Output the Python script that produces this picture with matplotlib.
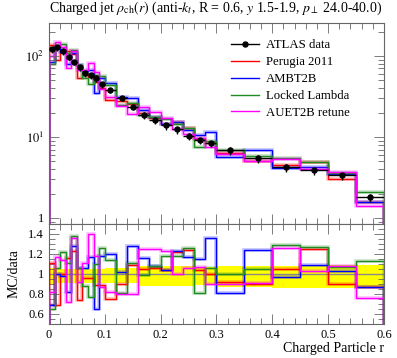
import numpy as np
import matplotlib
matplotlib.use("Agg")
import matplotlib.pyplot as plt
from matplotlib.lines import Line2D
from matplotlib.ticker import MultipleLocator, FixedLocator, NullFormatter, LogLocator, FuncFormatter

plt.rcParams['font.family'] = ['Liberation Serif', 'DejaVu Serif']
plt.rcParams['mathtext.fontset'] = 'stix'

# bin edges of r
edges = [0, 0.01, 0.02, 0.03, 0.04, 0.05, 0.06, 0.07, 0.08, 0.09, 0.10,
         0.12, 0.14, 0.16, 0.18, 0.20, 0.22, 0.24, 0.26, 0.28, 0.30,
         0.35, 0.40, 0.45, 0.50, 0.55, 0.60]

# ATLAS data rho_ch(r)
data = [123, 128, 114, 98, 85, 72, 61, 58, 53, 45,
        38.5, 30.5, 23.7, 18.7, 16.2, 14.0, 12.4, 10.3, 9.2, 8.4,
        6.9, 5.55, 4.3, 3.9, 3.4, 1.83]
err_up = [0.058, 0.048, 0.048, 0.048, 0.048, 0.048, 0.048, 0.048, 0.048, 0.048,
          0.058, 0.058, 0.058, 0.075, 0.075, 0.075, 0.075, 0.075, 0.065, 0.065,
          0.075, 0.075, 0.075, 0.085, 0.085, 0.085]
err_dn = [0.112, 0.095, 0.095, 0.095, 0.095, 0.095, 0.095, 0.095, 0.095, 0.095,
          0.095, 0.095, 0.095, 0.12, 0.12, 0.12, 0.12, 0.12, 0.11, 0.11,
          0.13, 0.13, 0.14, 0.14, 0.14, 0.14]

# MC / data ratios
ratio_perugia = [1.11, 0.69, 1.00, 1.16, 1.23, 0.74, 0.96, 0.96, 0.89, 0.89,
                 0.75, 0.90, 1.09, 1.05, 1.06, 1.04, 1.22, 1.24, 1.04, 1.00,
                 0.92, 0.90, 1.05, 1.25, 0.90, 0.87]
ratio_ambt2b = [0.69, 1.00, 0.98, 0.82, 1.28, 1.06, 1.06, 1.17, 0.65, 1.18,
                1.20, 1.02, 1.28, 1.16, 1.075, 1.04, 1.23, 1.17, 1.15, 1.36,
                0.81, 1.24, 0.97, 1.09, 1.03, 0.87]
ratio_locked = [0.65, 1.06, 1.22, 1.11, 1.38, 1.06, 0.88, 0.77, 1.10, 1.26,
                1.14, 0.81, 1.11, 0.99, 1.08, 1.18, 1.18, 1.255, 0.81, 1.06,
                1.00, 1.045, 1.29, 1.27, 1.065, 1.13]
ratio_auet2b = [0.82, 1.17, 1.14, 0.72, 1.36, 0.92, 1.11, 1.40, 1.18, 0.87,
                0.82, 0.80, 0.80, 1.25, 1.245, 1.23, 1.00, 1.06, 1.065, 0.90,
                0.90, 0.91, 1.26, 1.03, 1.075, 0.76]

labels = ["Perugia 2011", "AMBT2B", "Locked Lambda", "AUET2B retune"]
colors = ["#ff0000", "#0000ff", "#1f8a1f", "#ff00ff"]
ratios = [ratio_perugia, ratio_ambt2b, ratio_locked, ratio_auet2b]

edges = np.array(edges)
data = np.array(data)
centers = 0.5 * (edges[1:] + edges[:-1])
halfw = 0.5 * (edges[1:] - edges[:-1])
up = np.array(err_up)
dn = np.array(err_dn)

fig = plt.figure(figsize=(3.97, 3.58), dpi=100)
ax = fig.add_axes([0.1234, 0.3743, 0.8438, 0.5615])
rx = fig.add_axes([0.1234, 0.095, 0.8438, 0.2793], sharex=ax)

# main panel
for r, c in zip(ratios, colors):
    mc = data * np.array(r)
    ax.stairs(mc, edges, color=c, lw=2.6, alpha=0.25)
    ax.stairs(mc, edges, color=c, lw=1)
ax.errorbar(centers, data, xerr=halfw, yerr=[data * dn, data * up],
            fmt='o', color='black', ms=3.6, elinewidth=1, capsize=0, zorder=5)

ax.set_yscale('log')
ax.set_ylim(0.843, 255)
ax.set_xlim(0, 0.6)
ax.yaxis.set_major_locator(FixedLocator([1, 10, 100]))
ax.set_yticklabels(['1', '$10^1$', '$10^2$'])
ax.yaxis.set_minor_locator(LogLocator(base=10, subs=np.arange(2, 10)))
ax.yaxis.set_minor_formatter(NullFormatter())

handles = [Line2D([], [], color='black', marker='o', ms=3.6, lw=1)]
handles += [Line2D([], [], color=c, lw=1) for c in colors]
ax.legend(handles, ["ATLAS data"] + labels, loc='upper left',
          bbox_to_anchor=(0.525, 0.95), frameon=False, fontsize=9.2,
          handlelength=2.2, handletextpad=0.5, labelspacing=0.38, borderpad=0)

ax.text(0.0, 1.03, r"Charged jet $\rho_{\rm ch}(r)$ (anti-$k_t$, R = 0.6, $y$ 1.5-1.9, $p_\perp$ 24.0-40.0)",
        transform=ax.transAxes, fontsize=10, ha='left', va='bottom')

# ratio panel
lo = np.append(1 - dn, (1 - dn)[-1])
hi = np.append(1 + up, (1 + up)[-1])
rx.fill_between(edges, lo, hi, step='post', color='#ffff00', lw=0, zorder=1)
rx.axhline(1, color='#888888', lw=1, zorder=2)
for r, c in zip(ratios, colors):
    rx.stairs(r, edges, color=c, lw=2.6, alpha=0.25, zorder=3)
    rx.stairs(r, edges, color=c, lw=1, zorder=4)
rx.set_ylim(0.5, 1.5)
rx.yaxis.set_major_locator(MultipleLocator(0.2))
rx.yaxis.set_minor_locator(MultipleLocator(0.05))
rx.set_ylabel("MC/data", fontsize=10, labelpad=6)
rx.set_xlabel("Charged Particle r", fontsize=10, loc='right', labelpad=1)

fmt = FuncFormatter(lambda v, p: '%g' % round(v, 2))
rx.yaxis.set_major_formatter(fmt)
rx.xaxis.set_major_formatter(fmt)

for a in (ax, rx):
    a.xaxis.set_major_locator(MultipleLocator(0.1))
    a.xaxis.set_minor_locator(MultipleLocator(0.02))
    a.tick_params(which='both', direction='in', top=True, right=True, labelsize=9)
    a.tick_params(which='major', length=7, width=0.6, color='#666666')
    a.tick_params(which='minor', length=4, width=0.6, color='#666666')
    for s in a.spines.values():
        s.set_linewidth(0.8)
        s.set_color('#666666')
ax.tick_params(labelbottom=False)
rx.set_xlim(0, 0.6)

fig.savefig("out.png", dpi=100)
